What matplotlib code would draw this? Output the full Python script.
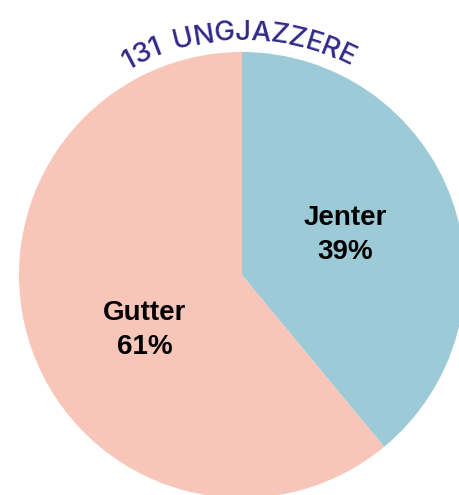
import numpy as np
import matplotlib
matplotlib.use("Agg")
import matplotlib.pyplot as plt
from matplotlib.font_manager import FontProperties

# data
labels = ["Jenter", "Gutter"]
shares = [39, 61]
colors = ["#9ccad6", "#f8c5b9"]
title = "131 UNGJAZZERE"

W, H = 459, 495
cx, cy, r = 242, H - 275, 223

fig = plt.figure(figsize=(W / 100, H / 100), dpi=100)
ax = fig.add_axes([0, 0, 1, 1])

wedges, texts = ax.pie(
    shares, colors=colors, startangle=90, counterclock=False,
    center=(cx, cy), radius=r, frame=True,
    labels=[f"{l}\n{v}%" for l, v in zip(labels, shares)],
    labeldistance=0.5,
    wedgeprops=dict(linewidth=0),
    textprops=dict(family="Liberation Sans", fontweight="bold", fontsize=20,
                   color="black", ha="center", va="center", linespacing=1.4),
)
ax.set_xlim(0, W)
ax.set_ylim(0, H)
ax.set_aspect("equal")
ax.axis("off")

# nudge labels to where they sit in the original
texts[0].set_position((cx + 103, cy + 40))
texts[1].set_position((cx - 97, cy - 55))

# curved title along the top of the pie
fp = FontProperties(family="Inter", weight="medium", size=20)
rend = fig.canvas.get_renderer()
def width(s):
    if not s:
        return 0.0
    w, h, d = rend.get_text_width_height_descent(s.replace(" ", "\u00a0"), fp, ismath=False)
    return w
adv = [width(title[:i + 1]) - width(title[:i]) for i in range(len(title))]
adv = [a * 1.8 if ch == " " else a for ch, a in zip(title, adv)]
R = 235
span_deg = 56.5
natural = sum(adv)
track = (np.radians(span_deg) * R - natural) / (len(title) - 1)
pos = 0.0
centers = []
for a in adv:
    centers.append(pos + a / 2)
    pos += a + track
total = pos - track
for ch, c in zip(title, centers):
    th = (c - total / 2) / R - np.radians(0.8)
    ax.text(cx + R * np.sin(th), cy + R * np.cos(th), ch, fontproperties=fp,
            color="#30298a", ha="center", va="baseline",
            rotation=-np.degrees(th), rotation_mode="anchor")

fig.savefig("out.png", dpi=100, facecolor="white")
